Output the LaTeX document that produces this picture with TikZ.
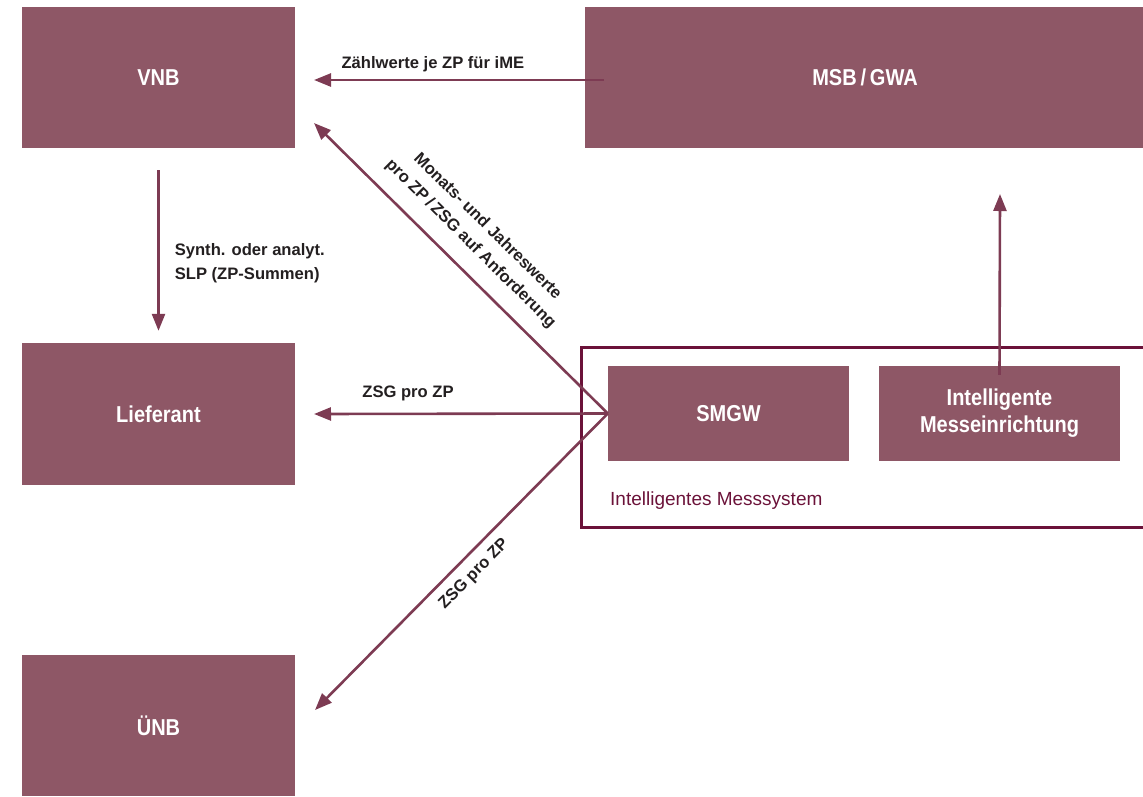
\documentclass[tikz,border=0pt]{standalone}
\usepackage{fontspec}
\setmainfont{Liberation Sans}
\newfontfamily\condfont{Liberation Sans}[FakeStretch=0.87]
\usetikzlibrary{arrows.meta,positioning}
\definecolor{boxred}{HTML}{8E5766}
\definecolor{arrowred}{HTML}{7D3B53}
\definecolor{framered}{HTML}{6B1239}
\definecolor{labelgray}{HTML}{231F20}
\begin{document}
\begin{tikzpicture}[
    x=1pt, y=-1pt,
    party/.style={rectangle, fill=boxred, text=white, inner sep=0pt, minimum width=273pt, minimum height=141pt, align=center, font=\condfont\bfseries\fontsize{23}{27}\selectfont},
    device/.style={party, minimum width=241pt, minimum height=95pt},
    flow/.style={draw=arrowred, line width=2.6pt, -{Triangle[length=17pt,width=13pt]}},
    flowlabel/.style={text=labelgray, inner sep=0pt, font=\bfseries\fontsize{16.6}{24}\selectfont}
]
\useasboundingbox (0,0) rectangle (1143,796);

% Intelligent metering system frame
\draw[framered, line width=3pt] (581,347) rectangle (1170,527);
\node[anchor=base west, text=framered, inner sep=0pt, font=\fontsize{19}{23}\selectfont] (ims) at (610,505) {Intelligentes Messsystem};

% Market roles
\node[party] (vnb) at (158.5,77.5) {VNB};
\node[party, minimum width=560pt] (msb) at (865,77.5) {MSB\,/\,GWA};
\node[party, minimum height=142pt] (lief) at (158.5,414) {Lieferant};
\node[party] (unb) at (158.5,725.5) {ÜNB};

% Devices
\node[device] (smgw) at (728.5,413.5) {SMGW};
\node[device] (ime) at (999.5,413.5) {Intelligente\\Messeinrichtung};

% Arrow ends
\coordinate (msbout) at (604,80);
\coordinate (vnbin) at (314,80);
\coordinate (vnbdiag) at (314,123);
\coordinate (liefin) at (314,414);
\coordinate (unbin) at (315,710);
\coordinate (msbin) at (1000,194);

% Arrows
\draw[flow] (msbout) -- node[flowlabel, above=7pt, pos=0.59] (zw) {Zählwerte je ZP für iME} (vnbin);
\draw[flow] ([yshift=-22pt]vnb.south) -- node[flowlabel, right=15pt, pos=0.58, align=left] (slp) {Synth. oder analyt.\\SLP (ZP-Summen)} ([yshift=12pt]lief.north);
\draw[flow] (smgw.west) -- node[flowlabel, sloped, above=15pt, pos=0.525, align=center] (mjw) {Monats- und Jahreswerte\\pro ZP\,/\,ZSG auf Anforderung} (vnbdiag);
\draw[flow] (smgw.west) -- node[flowlabel, above=12pt, pos=0.68] (zsg1) {ZSG pro ZP} (liefin);
\draw[flow] (smgw.west) -- node[flowlabel, sloped, below=9pt, pos=0.5] (zsg2) {ZSG pro ZP} (unbin);
\draw[flow] ([yshift=-9pt]ime.north) -- (msbin);

\end{tikzpicture}
\end{document}
